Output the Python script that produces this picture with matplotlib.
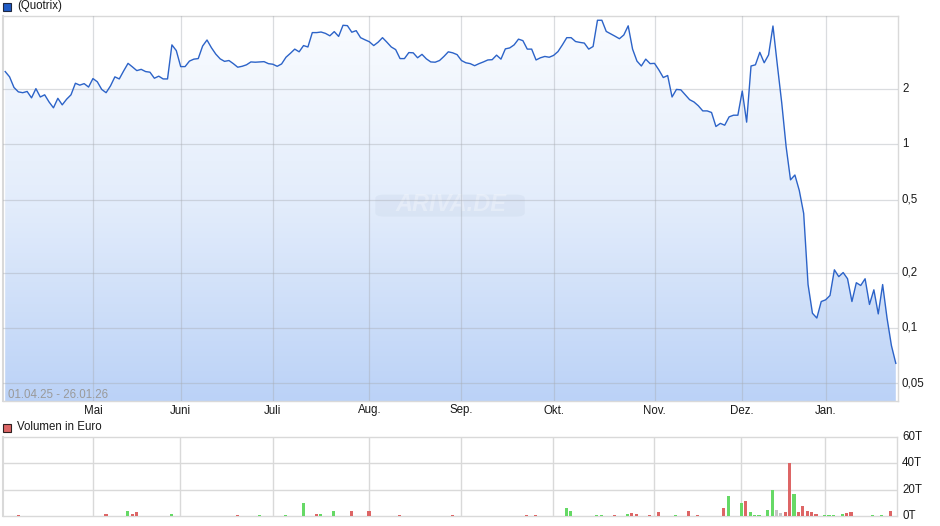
import matplotlib
matplotlib.use("Agg")
import matplotlib.pyplot as plt
import numpy as np
from matplotlib.patches import Rectangle, FancyBboxPatch
from matplotlib.colors import LinearSegmentedColormap
import matplotlib.transforms as mtransforms

plt.rcParams['font.family'] = ['Liberation Sans', 'DejaVu Sans']

# ---------------- data ----------------
prices = [2.49, 2.33, 2.04, 1.93, 1.91, 1.94, 1.79, 2.01, 1.81, 1.86,
          1.70, 1.58, 1.78, 1.64, 1.76, 1.86, 2.15, 2.10, 2.14, 2.05,
          2.28, 2.19, 1.99, 1.91, 2.08, 2.33, 2.27, 2.51, 2.76, 2.64,
          2.52, 2.56, 2.49, 2.47, 2.29, 2.35, 2.27, 2.27, 3.48, 3.24,
          2.65, 2.65, 2.84, 2.91, 2.93, 3.43, 3.70, 3.36, 3.10, 2.92,
          2.83, 2.86, 2.75, 2.63, 2.66, 2.71, 2.81, 2.80, 2.81, 2.82,
          2.75, 2.73, 2.66, 2.74, 2.98, 3.13, 3.30, 3.19, 3.45, 3.39,
          4.06, 4.06, 4.09, 4.02, 3.90, 4.11, 3.87, 4.45, 4.43, 4.08,
          4.16, 3.81, 3.71, 3.62, 3.45, 3.60, 3.81, 3.60, 3.39, 3.28,
          2.93, 2.93, 3.16, 3.15, 2.96, 3.09, 2.92, 2.81, 2.80, 2.86,
          3.01, 3.19, 3.15, 3.08, 2.86, 2.78, 2.75, 2.68, 2.75, 2.81,
          2.88, 2.89, 3.06, 2.91, 3.31, 3.35, 3.48, 3.74, 3.67, 3.30,
          3.30, 2.88, 2.96, 3.01, 2.98, 3.05, 3.20, 3.48, 3.81, 3.81,
          3.63, 3.59, 3.56, 3.30, 3.41, 4.74, 4.74, 4.12, 4.00, 3.88,
          3.76, 3.94, 4.42, 3.30, 2.84, 2.67, 2.91, 2.75, 2.76, 2.54,
          2.31, 2.37, 1.81, 1.99, 1.98, 1.86, 1.75, 1.70, 1.62, 1.52,
          1.52, 1.49, 1.25, 1.30, 1.27, 1.41, 1.44, 1.44, 1.95, 1.32,
          2.67, 2.71, 3.17, 2.78, 3.07, 4.41, 2.70, 1.68, 0.97, 0.64,
          0.68, 0.56, 0.42, 0.172, 0.120, 0.113, 0.139, 0.142, 0.150, 0.207,
          0.190, 0.200, 0.185, 0.139, 0.176, 0.170, 0.185, 0.134, 0.161, 0.119,
          0.172, 0.113, 0.080, 0.064]

month_labels = ["Mai", "Juni", "Juli", "Aug.", "Sep.", "Okt.", "Nov.", "Dez.", "Jan."]
month_start_idx = [20, 40, 61, 83, 104, 125, 148, 168, 187]

price_ticks = [0.05, 0.1, 0.2, 0.5, 1, 2]
price_tick_labels = ["0,05", "0,1", "0,2", "0,5", "1", "2"]

vol_idx = [3, 22, 23, 24, 26, 28, 29, 30, 38, 53, 56, 58, 64, 68, 71, 72, 75, 79, 83, 90,
           94, 102, 119, 121, 128, 129, 135, 136, 139, 141, 142, 143, 144, 147, 149, 153,
           156, 158, 164, 165, 168, 169, 170, 171, 172, 173, 174, 175, 176, 177, 178, 179,
           180, 181, 182, 183, 184, 185, 186, 187, 188, 189, 190, 191, 192, 193, 194, 195,
           196, 197, 198, 199, 200, 201, 202, 203]
vol_vals = [1.0, 0.3, 1.75, 0.3, 0.3, 4.0, 1.75, 3.25, 1.75, 1.0, 0.3, 1.0, 1.0, 10.0, 1.75, 1.75, 4.0, 4.0, 4.0, 1.0,
            0.3, 1.0, 1.0, 1.0, 6.25, 4.0, 1.0, 1.0, 1.0, 0.3, 1.75, 2.5, 1.75, 1.0, 3.25, 1.0,
            4.0, 1.0, 6.25, 15.25, 10.0, 11.5, 3.25, 1.0, 1.0, 0.3, 4.75, 19.75, 4.75, 2.5, 3.25, 40.0,
            16.75, 3.25, 7.75, 4.0, 3.25, 1.75, 0.3, 1.0, 1.0, 1.0, 0.3, 1.75, 2.5, 3.25, 0.3, 0.3,
            0.3, 0.3, 1.0, 0.3, 1.0, 0.3, 4.0, 0.3]
vol_dir = ['d', 'd', 'd', 'u', 'd', 'u', 'd', 'd', 'u', 'd', 'u', 'u', 'u', 'u', 'd', 'u', 'u', 'd', 'd', 'd',
           'd', 'd', 'd', 'd', 'u', 'u', 'u', 'u', 'd', 'u', 'u', 'd', 'd', 'd', 'd', 'u',
           'd', 'd', 'd', 'u', 'u', 'd', 'u', 'u', 'u', 'd', 'u', 'u', 'n', 'n', 'd', 'd',
           'u', 'd', 'd', 'd', 'd', 'd', 'u', 'u', 'u', 'u', 'd', 'u', 'd', 'd', 'u', 'd',
           'u', 'd', 'u', 'd', 'u', 'd', 'd', 'd']
vol_ticks = [0, 20, 40, 60]
vol_tick_labels = ["0T", "20T", "40T", "60T"]

date_range_text = "01.04.25 - 26.01.26"

# ---------------- styles ----------------
W, H = 940, 526
LINE = "#2C63C8"
GRID = "#D9D9D9"
TXT = "#1a1a1a"
dir_colors = {'u': "#66D966", 'd': "#DD6666", 'n': "#C4C4C4"}

fig = plt.figure(figsize=(W / 100, H / 100), dpi=100)

def fx(px):
    return px / W

def fy(py):
    return 1 - py / H

# price axes
pl, pr, pt, pb = 3, 898, 16, 401
ax = fig.add_axes([fx(pl), fy(pb), fx(pr - pl), (pb - pt) / H])
x = np.arange(len(prices))
n = len(prices)
ax.set_yscale('log')
ax.set_ylim(0.0399, 5.0)
ax.set_xlim(-0.5, n - 0.5)

# gradient fill under line
ymin = 0.0399
poly = ax.fill_between(x, prices, ymin, facecolor='none', edgecolor='none', zorder=1)
cmap = LinearSegmentedColormap.from_list("g", ["#BBD2F7", "#E2ECFB", "#FAFCFF"])
grad = np.linspace(0, 1, 256).reshape(-1, 1)
im = ax.imshow(grad, cmap=cmap, aspect='auto', extent=[0, 1, 0, 1],
               transform=ax.transAxes, origin='lower', zorder=1, interpolation='bilinear')
path = poly.get_paths()[0]
im.set_clip_path(path, transform=ax.transData)

ax.plot(x, prices, color=LINE, lw=1.0, zorder=4)

# gridlines
for m in month_start_idx:
    ax.axvline(m, color="#A8ACB4", lw=0.9, alpha=0.42, zorder=3)
for t in price_ticks:
    ax.axhline(t, color="#A8ACB4", lw=0.9, alpha=0.42, zorder=3)

ax.set_xticks([])
ax.set_yticks([])
ax.minorticks_off()
ax.yaxis.set_minor_locator(matplotlib.ticker.NullLocator())
for s in ax.spines.values():
    s.set_color(GRID)
    s.set_linewidth(1.0)
ax.spines['left'].set_linewidth(1.5)

for t, lab in zip(price_ticks, price_tick_labels):
    ax.text(1.0 + 4 / (pr - pl), t, lab, transform=mtransforms.blended_transform_factory(ax.transAxes, ax.transData),
            ha='left', va='center', fontsize=8.3, color=TXT)
for m, lab in zip(month_start_idx, month_labels):
    ax.text(m, -12.5 / (pb - pt), lab, transform=mtransforms.blended_transform_factory(ax.transData, ax.transAxes),
            ha='center', va='baseline', fontsize=8.3, color=TXT)

ax.text(5 / (pr - pl), 6 / (pb - pt), date_range_text, transform=ax.transAxes,
        ha='left', va='center', fontsize=8.3, color="#9A9A9A", zorder=5)

# watermark
wm = FancyBboxPatch((0.422, 0.485), 0.155, 0.045, boxstyle="round,pad=0.006,rounding_size=0.01",
                    transform=ax.transAxes, facecolor="#C8D4E8", edgecolor='none', alpha=0.3, zorder=2)
ax.add_patch(wm)
ax.text(0.5, 0.51, "ARIVA.DE", transform=ax.transAxes, ha='center', va='center', fontsize=17,
        fontweight='bold', style='italic', color="white", alpha=0.3, zorder=2)

# legend price
fig.patches.append(Rectangle((fx(3), fy(11)), 8 / W, 8 / H, transform=fig.transFigure,
                             facecolor="#1F5BC6", edgecolor="#202840", lw=0.8))
fig.text(fx(17), fy(6.5), "(Quotrix)", ha='left', va='center', fontsize=8.3, color=TXT)

# volume axes
vl, vr, vt, vb = 3, 897, 437, 516
ax2 = fig.add_axes([fx(vl), fy(vb), fx(vr - vl), (vb - vt) / H])
ax2.set_xlim(-0.5, n - 0.5)
ax2.set_ylim(0, 60)
for m in month_start_idx:
    ax2.axvline(m, color=GRID, lw=1.0, zorder=1)
for t in vol_ticks[1:-1]:
    ax2.axhline(t, color=GRID, lw=1.0, zorder=1)
ax2.bar(vol_idx, vol_vals, width=0.72, color=[dir_colors[d] for d in vol_dir], zorder=3)
ax2.set_xticks([])
ax2.set_yticks([])
for s in ax2.spines.values():
    s.set_color(GRID)
    s.set_linewidth(1.0)
ax2.spines['left'].set_linewidth(1.5)
for t, lab in zip(vol_ticks, vol_tick_labels):
    ax2.text(1.0 + 5 / (vr - vl), t, lab, transform=mtransforms.blended_transform_factory(ax2.transAxes, ax2.transData),
             ha='left', va='center', fontsize=8.3, color=TXT)

fig.patches.append(Rectangle((fx(3), fy(432)), 8 / W, 8 / H, transform=fig.transFigure,
                             facecolor="#DD6666", edgecolor="#302020", lw=0.8))
fig.text(fx(17), fy(427.5), "Volumen in Euro", ha='left', va='center', fontsize=8.3, color=TXT)

fig.savefig("out.png", dpi=100)
